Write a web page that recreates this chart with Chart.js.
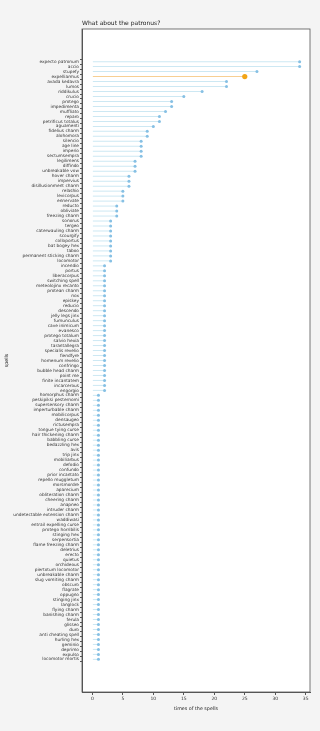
<!DOCTYPE html>
<html>
<head>
<meta charset="utf-8">
<script src="https://cdn.jsdelivr.net/npm/chart.js@4.4.1/dist/chart.umd.min.js"></script>
<style>
  html, body { margin: 0; padding: 0; background: #f4f4f4; }
  canvas { display: block; }
</style>
</head>
<body>
<canvas id="spellChart" width="320" height="731"></canvas>
<script>
const spells = [
  "expecto patronum", "accio", "stupefy", "expelliarmus", "avada kedavra", "lumos",
  "riddikulus", "crucio", "protego", "impedimenta", "muffliato", "reparo",
  "petrificus totalus", "aguamenti", "fidelius charm", "alohomora", "silencio", "age line",
  "imperio", "sectumsempra", "legilimens", "diffindo", "unbreakable vow", "hover charm",
  "impervius", "disillusionment charm", "relashio", "levicorpus", "ennervate", "reducto",
  "obliviate", "freezing charm", "sonorus", "tergeo", "caterwauling charm", "scourgify",
  "colloportus", "bat bogey hex", "taboo", "permanent sticking charm", "locomotor", "incendio",
  "portus", "liberacorpus", "switching spell", "meteolojinx recanto", "protean charm", "nox",
  "episkey", "reducio", "descendo", "jelly legs jinx", "furnunculus", "cave inimicum",
  "evanesco", "protego totalum", "salvio hexia", "tarantallegra", "specialis revelio", "fiendfyre",
  "homenum revelio", "confringo", "bubble head charm", "point me", "finite incantatem", "incarcerous",
  "engorgio", "homorphus charm", "peskipiksi pesternomi", "supersensory charm", "imperturbable charm", "mobilicorpus",
  "densaugeo", "rictusempra", "tongue tying curse", "hair thickening charm", "babbling curse", "bedazzling hex",
  "avis", "trip jinx", "mobiliarbus", "defodio", "confundo", "prior incantato",
  "repello muggletum", "morsmordre", "aparecium", "obliteration charm", "cheering charm", "anapneo",
  "intruder charm", "undetectable extension charm", "waddiwasi", "entrail expelling curse", "protego horribilis", "stinging hex",
  "serpensortia", "flame freezing charm", "deletrius", "erecto", "quietus", "orchideous",
  "piertotum locomotor", "unbreakable charm", "slug vomiting charm", "obscuro", "flagrate", "oppugno",
  "stinging jinx", "langlock", "flying charm", "banishing charm", "ferula", "glisseo",
  "duro", "anti cheating spell", "hurling hex", "geminio", "deprimo", "expulso",
  "locomotor mortis"
];
const counts = [
  34, 34, 27, 25, 22, 22,
  18, 15, 13, 13, 12, 11,
  11, 10, 9, 9, 8, 8,
  8, 8, 7, 7, 7, 6,
  6, 6, 5, 5, 5, 4,
  4, 4, 3, 3, 3, 3,
  3, 3, 3, 3, 3, 2,
  2, 2, 2, 2, 2, 2,
  2, 2, 2, 2, 2, 2,
  2, 2, 2, 2, 2, 2,
  2, 2, 2, 2, 2, 2,
  2, 1, 1, 1, 1, 1,
  1, 1, 1, 1, 1, 1,
  1, 1, 1, 1, 1, 1,
  1, 1, 1, 1, 1, 1,
  1, 1, 1, 1, 1, 1,
  1, 1, 1, 1, 1, 1,
  1, 1, 1, 1, 1, 1,
  1, 1, 1, 1, 1, 1,
  1, 1, 1, 1, 1, 1,
  1
];
const highlight = "expelliarmus";
const xTicks = [0, 5, 10, 15, 20, 25, 30, 35];

const isHi = spells.map(s => s === highlight);
const points = spells.map((s, i) => ({ x: counts[i], y: i }));

// white plot area, box around it and the title at the left edge of the plot
const frame = {
  id: 'frame',
  beforeDraw(chart) {
    const { ctx, chartArea: a } = chart;
    ctx.save();
    ctx.fillStyle = '#ffffff';
    ctx.fillRect(a.left, a.top, a.right - a.left, a.bottom - a.top);
    ctx.restore();
  },
  afterDraw(chart) {
    const { ctx, chartArea: a } = chart;
    ctx.save();
    ctx.strokeStyle = '#555';
    ctx.lineWidth = 0.8;
    ctx.strokeRect(a.left, a.top, a.right - a.left, a.bottom - a.top);
    ctx.fillStyle = '#222';
    ctx.font = '6px "DejaVu Sans"';
    ctx.textBaseline = 'bottom';
    ctx.fillText('What about the patronus?', a.left, a.top - 3);
    ctx.restore();
  }
};

new Chart(document.getElementById('spellChart'), {
  type: 'bar',
  data: {
    datasets: [{
      type: 'bar',
      data: points,
      backgroundColor: isHi.map(h => h ? '#f7cf93' : '#cde8f3'),
      barThickness: 1,
      inflateAmount: 0,
      order: 2
    }, {
      type: 'line',
      data: points,
      showLine: false,
      pointRadius: isHi.map(h => h ? 2.6 : 1.5),
      pointBackgroundColor: isHi.map(h => h ? '#f2a516' : '#86c0e4'),
      pointBorderWidth: 0,
      order: 1
    }]
  },
  options: {
    indexAxis: 'y',
    responsive: false,
    animation: false,
    layout: { padding: { top: 29, left: 4, right: 10, bottom: 18 } },
    plugins: { legend: { display: false }, tooltip: { enabled: false } },
    scales: {
      x: {
        type: 'linear',
        min: -1.7,
        max: 35.7,
        afterBuildTicks: s => { s.ticks = xTicks.map(v => ({ value: v })); },
        afterFit: s => { s.height = 21; },
        ticks: { font: { family: 'DejaVu Sans', size: 4.5 }, color: '#333', padding: 1 },
        grid: { drawOnChartArea: false, tickLength: 3, color: '#555' },
        border: { color: '#555' },
        title: { display: true, text: 'times of the spells', font: { family: 'DejaVu Sans', size: 4.8 }, color: '#222', padding: 1 }
      },
      y: {
        type: 'linear',
        reverse: true,
        min: -6,
        max: spells.length + 5,
        afterBuildTicks: s => { s.ticks = spells.map((_, i) => ({ value: i })); },
        afterFit: s => { s.width = 78; },
        ticks: {
          autoSkip: false,
          font: { family: 'DejaVu Sans', size: 4.3 },
          color: '#333',
          padding: 1,
          callback: v => spells[v]
        },
        grid: { drawOnChartArea: false, tickLength: 2, color: '#555' },
        border: { color: '#555' },
        title: { display: true, text: 'spells', font: { family: 'DejaVu Sans', size: 4.8 }, color: '#222', padding: 0 }
      }
    }
  },
  plugins: [frame]
});
</script>
</body>
</html>
